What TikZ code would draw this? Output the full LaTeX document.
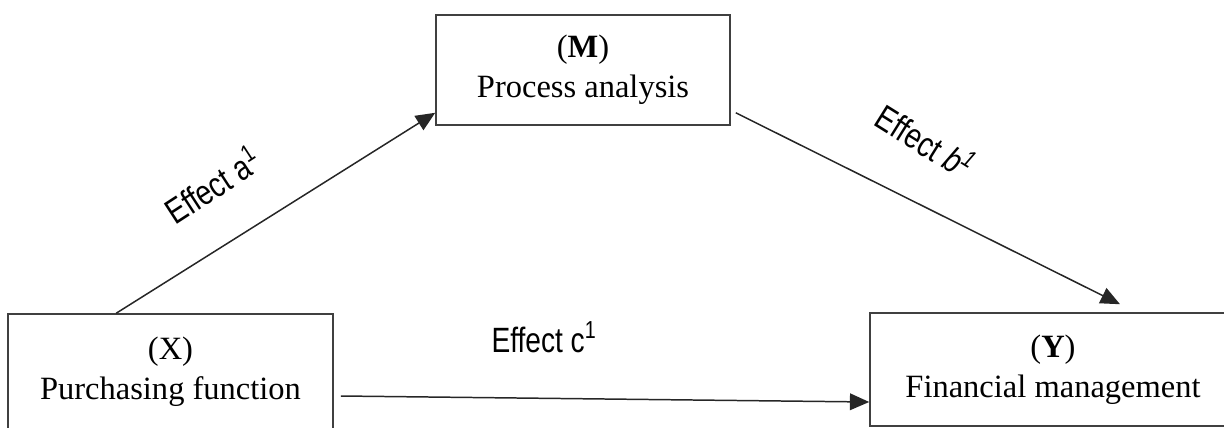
\documentclass[tikz,border=0pt]{standalone}
\usepackage{fontspec}
\setmainfont{Liberation Serif}
\newfontfamily\effectfont{Liberation Sans}
\usetikzlibrary{arrows.meta}
\newcommand{\narrowtext}[1]{\scalebox{0.8}[1]{#1}}

\tikzset{
    varbox/.style={draw=black!75, line width=0.9pt, align=center, inner sep=0pt,
        font=\fontsize{18.5}{23}\selectfont},
    effect/.style={font=\effectfont\fontsize{20}{22}\selectfont, inner sep=0pt, anchor=base},
    effarrow/.style={draw=black!85, line width=0.85pt, -{Triangle[length=11pt,width=9.5pt]}}
}

\begin{document}
\begin{tikzpicture}[x=0.02cm, y=-0.02cm]
    \useasboundingbox (0,0) rectangle (1224,427);
    % variables
    \node[varbox, minimum width=5.88cm, minimum height=2.2cm] (M) at (583,70)
        {(\textbf{M})\\Process analysis};
    \node[varbox, minimum width=6.5cm, minimum height=2.32cm] (X) at (170.5,372)
        {(X)\\Purchasing function};
    \node[varbox, minimum width=7.32cm, minimum height=2.26cm] (Y) at (1053,369.5)
        {(\textbf{Y})\\Financial management};
    % paths
    \draw[effarrow] ([xshift=2.18cm]X.north west) -- ([yshift=0.26cm]M.south west);
    \draw[effarrow] ([xshift=0.1cm, yshift=0.26cm]M.south east) -- ([xshift=1.34cm, yshift=0.16cm]Y.north);
    \draw[effarrow] ([xshift=0.14cm, yshift=-0.48cm]X.east) -- ([yshift=-0.65cm]Y.west);
    % labels
    \node[effect, rotate=33] (la) at (220,197) {\narrowtext{Effect a\textsuperscript{1}}};
    \node[effect, rotate=-32] (lb) at (918,153) {\narrowtext{Effect \textit{b}\textsuperscript{\textit{1}}}};
    \node[effect] (lc) at (544,352) {\narrowtext{Effect c\textsuperscript{1}}};
\end{tikzpicture}
\end{document}
